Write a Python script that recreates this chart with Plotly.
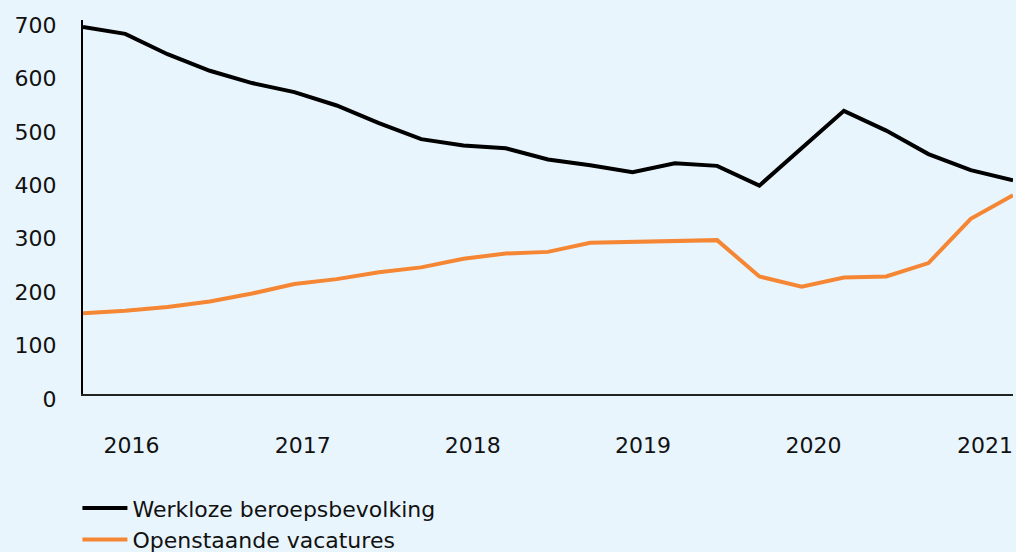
import plotly.graph_objects as go

# Quarterly series, 2015 Q4 .. 2021 Q2 (x 1000)
quarters = list(range(23))
werkloze = [687, 674, 636, 605, 582, 565, 540, 507, 477, 465, 460, 439,
            428, 415, 432, 427, 390, 460, 530, 493, 449, 419, 400]
vacatures = [151, 156, 163, 173, 188, 206, 215, 228, 237, 253, 263, 266,
             283, 285, 286, 288, 220, 201, 218, 220, 245, 328, 372]

year_pos = [1.15, 5.2, 9.22, 13.25, 17.28, 21.34]
year_labels = ["2016", "2017", "2018", "2019", "2020", "2021"]
y_ticks = [0, 100, 200, 300, 400, 500, 600, 700]

bg = "#E9F5FD"
font_family = "'DejaVu Sans', sans-serif"

fig = go.Figure()

fig.add_trace(go.Scatter(
    x=quarters, y=werkloze, mode="lines",
    name="Werkloze beroepsbevolking",
    line=dict(color="#000000", width=4),
))
fig.add_trace(go.Scatter(
    x=quarters, y=vacatures, mode="lines",
    name="Openstaande vacatures",
    line=dict(color="#F58634", width=4),
))

fig.update_layout(
    width=1016, height=552,
    paper_bgcolor=bg, plot_bgcolor=bg,
    margin=dict(l=83, r=3, t=20, b=158, autoexpand=False),
    font=dict(family=font_family, size=22, color="#111111"),
    showlegend=True,
    legend=dict(
        x=-0.006, xanchor="left", y=-0.249, yanchor="top",
        bgcolor="rgba(0,0,0,0)", itemwidth=45,
        font=dict(size=22), tracegroupgap=0,
    ),
)

fig.update_xaxes(
    range=[0, 22], tickmode="array", tickvals=year_pos, ticktext=year_labels,
    showgrid=False, zeroline=False, showline=True, linecolor="#222222",
    linewidth=2, ticks="", ticklabelstandoff=31, automargin=False,
)
fig.update_yaxes(
    range=[0, 700], tickmode="array", tickvals=y_ticks,
    showgrid=False, zeroline=False, showline=True, linecolor="#000000",
    linewidth=2, ticks="", ticklabelstandoff=20, ticklabelshift=5,
    automargin=False,
)

fig.write_html("out.html", config={"displayModeBar": False},
               post_script="document.body.style.margin='0';")
